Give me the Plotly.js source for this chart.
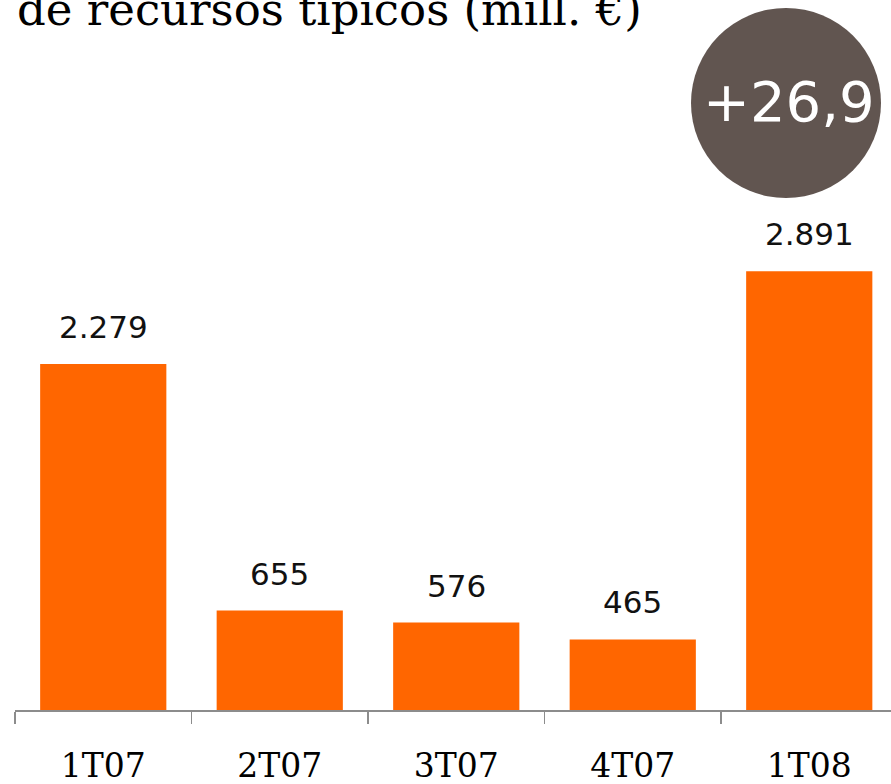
<!DOCTYPE html>
<html>
<head>
<meta charset="utf-8">
<script src="https://cdn.plot.ly/plotly-3.0.1.min.js"></script>
<style>html,body{margin:0;padding:0;background:#fff;}#chart{width:891px;height:784px;}</style>
</head>
<body>
<div id="chart"></div>
<script>
const categories = ["1T07", "2T07", "3T07", "4T07", "1T08"];
const values = [2279, 655, 576, 465, 2891];
const valueLabels = ["2.279", "655", "576", "465", "2.891"];
const titleText = "de recursos típicos (mill. €)";
const growthText = "+26,9";

const W = 891, H = 784;
const mL = 15, mR = 0, mT = 0, mB = 74;
const plotW = W - mL - mR, plotH = H - mT - mB;
const px = x => (x - mL) / plotW;
const py = y => (H - mB - y) / plotH;

const catW = 176.5;
const xRange = [-0.5, -0.5 + plotW / catW];
const yMax = plotH / 0.1518;

const annotations = categories.map((c, i) => ({
  x: c, y: values[i], xref: 'x', yref: 'y',
  text: valueLabels[i], showarrow: false,
  yanchor: 'middle', yshift: 37,
  font: {family: 'DejaVu Sans', size: 31, color: '#111'}
}));
annotations.push({
  xref: 'paper', yref: 'paper', x: px(15), y: py(10), xanchor: 'left', yanchor: 'middle',
  text: titleText, showarrow: false,
  font: {family: 'DejaVu Serif', size: 45, color: '#000'}
});
annotations.push({
  xref: 'paper', yref: 'paper', x: px(789), y: py(101), xanchor: 'center', yanchor: 'middle',
  text: growthText, showarrow: false,
  font: {family: 'DejaVu Sans', size: 56, color: '#ffffff'}
});

const data = [{
  type: 'bar', x: categories, y: values,
  marker: {color: '#FF6600'}, hoverinfo: 'none'
}];

const layout = {
  width: W, height: H,
  margin: {l: mL, r: mR, t: mT, b: mB},
  paper_bgcolor: '#ffffff', plot_bgcolor: '#ffffff',
  showlegend: false,
  bargap: 0.285,
  xaxis: {
    type: 'category', range: xRange,
    showline: true, linecolor: '#8c8c8c', linewidth: 1.5,
    ticks: 'outside', tickson: 'boundaries', ticklen: 12, tickwidth: 1.5, tickcolor: '#8c8c8c',
    tickfont: {family: 'DejaVu Serif', size: 33, color: '#000'},
    ticklabelstandoff: 26,
    showgrid: false, zeroline: false, fixedrange: true
  },
  yaxis: {
    range: [0, yMax], visible: false, showgrid: false, zeroline: false, fixedrange: true
  },
  shapes: [{
    type: 'circle', xref: 'paper', yref: 'paper',
    x0: px(691), x1: px(881), y0: py(8), y1: py(198),
    fillcolor: '#615550', line: {width: 0}, layer: 'above'
  }],
  annotations: annotations
};

Plotly.newPlot('chart', data, layout, {displayModeBar: false, staticPlot: true});
</script>
</body>
</html>
